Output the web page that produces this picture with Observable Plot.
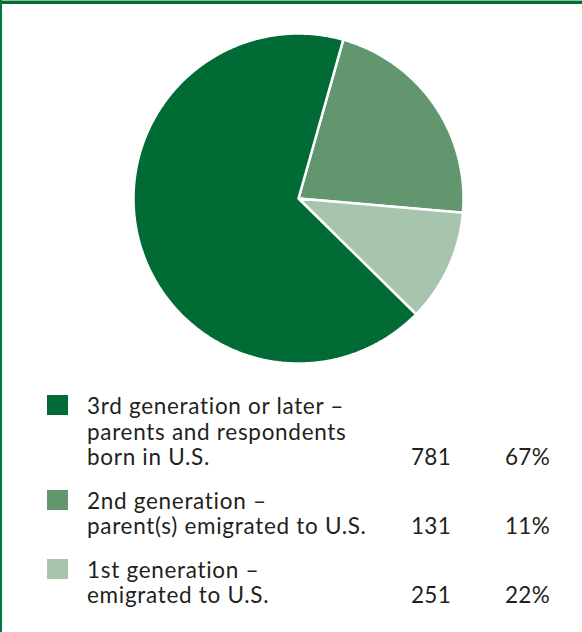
<!DOCTYPE html>
<html>
<head>
<meta charset="utf-8">
<script src="https://cdn.jsdelivr.net/npm/d3@7"></script>
<script src="https://cdn.jsdelivr.net/npm/@observablehq/plot@0.6"></script>
<style>
  html, body { margin: 0; padding: 0; background: #fff; }
  #frame { position: relative; width: 582px; height: 632px; overflow: hidden; background: #fff;
           font-family: Lato, "Open Sans", sans-serif; color: #231f20; }
  #topline1 { position: absolute; left: 0; top: 0; width: 582px; height: 1px; background: #8fbf9c; }
  #topline2 { position: absolute; left: 0; top: 1px; width: 582px; height: 3px; background: #006b35; }
  #leftline { position: absolute; left: 0; top: 0; width: 2px; height: 632px; background: #007a3d; }
  #chart { position: absolute; left: 0; top: 0; }
  #legend { position: absolute; left: 0; top: 393px; width: 582px; }
  .row { position: relative; font-size: 22.5px; line-height: 25.5px; margin-bottom: 18px; letter-spacing: 0.7px; }
  .sw { position: absolute; left: 47px; top: 2px; width: 21px; height: 20px; }
  .txt { margin-left: 87px; white-space: nowrap; }
  .num { position: absolute; bottom: 0; right: 131px; letter-spacing: 0.3px; }
  .pct { position: absolute; bottom: 0; right: 32px; letter-spacing: 0.3px; }
</style>
</head>
<body>
<div id="frame">
  <div id="chart"></div>
  <div id="legend"></div>
  <div id="topline1"></div>
  <div id="topline2"></div>
  <div id="leftline"></div>
</div>
<script>
// Pie slices as drawn (clockwise from the first boundary near the top)
const sliceKeys = ["mid", "light", "dark"];
const sliceShares = [22, 11, 67];
const sliceStartDeg = 15.75;

// Legend
const legendKeys = ["dark", "mid", "light"];
const legendLabels = [
  ["3rd generation or later –", "parents and respondents", "born in U.S."],
  ["2nd generation –", "parent(s) emigrated to U.S."],
  ["1st generation –", "emigrated to U.S."]
];
const legendCounts = [781, 131, 251];
const legendPercents = ["67%", "11%", "22%"];

const colorKeys = ["dark", "mid", "light"];
const colorValues = ["#006b35", "#62966f", "#a7c4ad"];

// Build slice polygons in unit coordinates
const slices = sliceKeys.map((k, i) => ({key: k, share: sliceShares[i]}));
const start = sliceStartDeg * Math.PI / 180;
const arcs = d3.pie().value(d => d.share).sort(null).startAngle(start).endAngle(start + 2 * Math.PI)(slices);
const pts = [];
for (const a of arcs) {
  const key = a.data.key;
  pts.push({key, x: 0, y: 0});
  const n = Math.max(2, Math.ceil((a.endAngle - a.startAngle) / (Math.PI / 360)));
  for (let j = 0; j <= n; j++) {
    const t = a.startAngle + (a.endAngle - a.startAngle) * j / n;
    pts.push({key, x: Math.sin(t), y: Math.cos(t)});
  }
  pts.push({key, x: 0, y: 0});
}

const cx = 298, cy = 198, r = 165;
const W = 582, H = 380;
const plot = Plot.plot({
  width: W, height: H,
  margin: 0,
  x: {domain: [-1, 1], range: [cx - r, cx + r], axis: null},
  y: {domain: [-1, 1], range: [cy + r, cy - r], axis: null},
  color: {domain: colorKeys, range: colorValues},
  marks: [
    Plot.line(pts, {x: "x", y: "y", z: "key", fill: "key", stroke: "white", strokeWidth: 2.5, strokeLinejoin: "miter", curve: "linear"})
  ]
});
document.getElementById("chart").appendChild(plot);

// Legend
const leg = document.getElementById("legend");
legendKeys.forEach((k, i) => {
  const row = document.createElement("div");
  row.className = "row";
  const sw = document.createElement("div");
  sw.className = "sw";
  sw.style.background = colorValues[colorKeys.indexOf(k)];
  row.appendChild(sw);
  const txt = document.createElement("div");
  txt.className = "txt";
  txt.innerHTML = legendLabels[i].map(s => `<div>${s}</div>`).join("");
  row.appendChild(txt);
  const num = document.createElement("span");
  num.className = "num";
  num.textContent = legendCounts[i];
  row.appendChild(num);
  const pct = document.createElement("span");
  pct.className = "pct";
  pct.textContent = legendPercents[i];
  row.appendChild(pct);
  leg.appendChild(row);
});
</script>
</body>
</html>
